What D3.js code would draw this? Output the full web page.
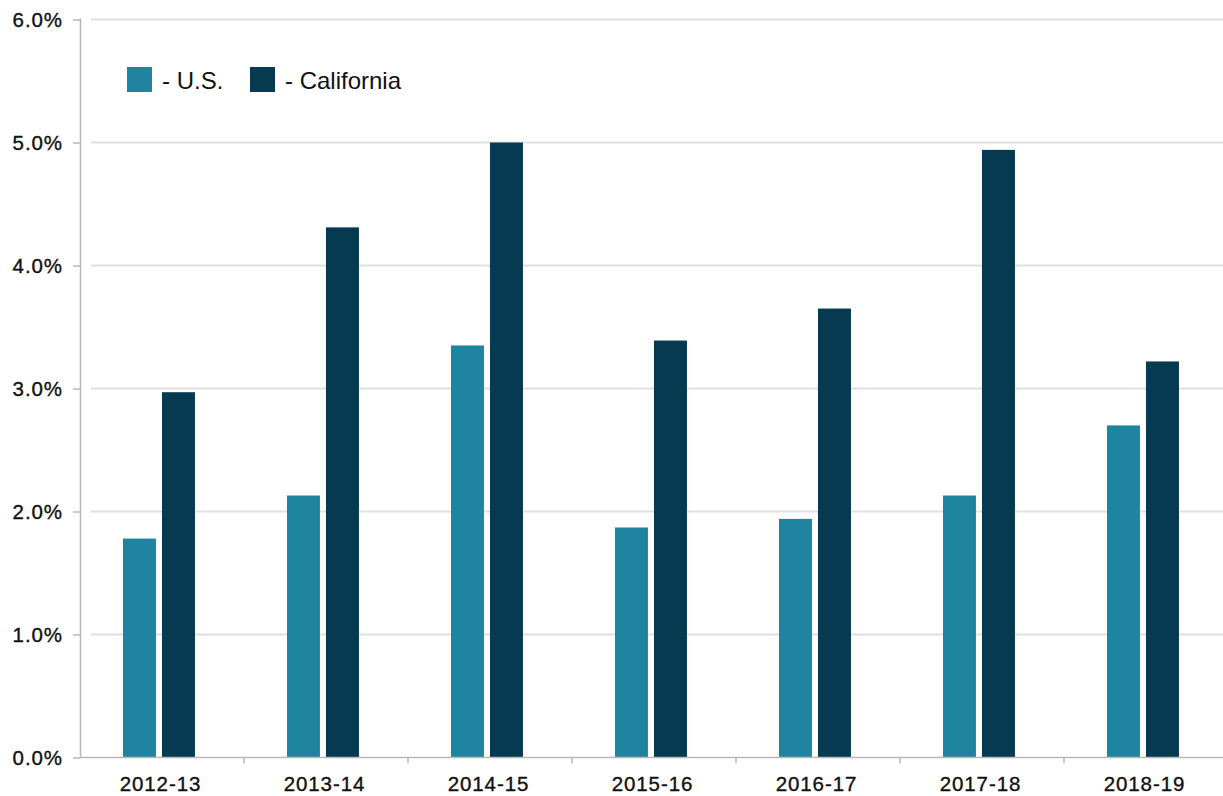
<!DOCTYPE html>
<html>
<head>
<meta charset="utf-8">
<script src="https://cdn.jsdelivr.net/npm/d3@7"></script>
<style>
  html, body { margin: 0; padding: 0; background: #fff; }
  svg { display: block; font-family: "Liberation Sans", Arial, Helvetica, sans-serif; }
</style>
</head>
<body>
<svg id="chart" width="1223" height="796"></svg>
<script>
// Fiscal years on the x axis
const years = ["2012-13", "2013-14", "2014-15", "2015-16", "2016-17", "2017-18", "2018-19"];
// Series values, in percent
const usValues = [1.78, 2.13, 3.35, 1.87, 1.94, 2.13, 2.70];
const caValues = [2.97, 4.31, 5.00, 3.39, 3.65, 4.94, 3.22];
const seriesNames = ["- U.S.", "- California"];
const seriesColors = ["#1f84a0", "#063a50"];
const yTicks = [0, 1, 2, 3, 4, 5, 6];

const svg = d3.select("#chart");
const plotLeft = 80, plotRight = 1228, plotTop = 19.5, plotBottom = 757.5;

const x = d3.scaleBand().domain(years).range([plotLeft, plotRight]).padding(0);
const inner = d3.scaleBand()
  .domain([0, 1])
  .range([0, x.bandwidth()])
  .paddingInner(0.154)
  .paddingOuter(1.18)
  .align(0.467);
const y = d3.scaleLinear().domain([0, 6]).range([plotBottom, plotTop]);

// Horizontal gridlines
svg.append("g")
  .selectAll("line")
  .data(yTicks.filter(d => d > 0))
  .join("line")
  .attr("x1", 91).attr("x2", 1223)
  .attr("y1", d => y(d)).attr("y2", d => y(d))
  .attr("stroke", "#e0e0e0")
  .attr("stroke-width", 2);

// Bars
const rows = years.map((yr, i) => ({ yr, vals: [usValues[i], caValues[i]] }));
const groups = svg.append("g").selectAll("g")
  .data(rows)
  .join("g")
  .attr("transform", d => `translate(${x(d.yr)},0)`);
groups.selectAll("rect")
  .data(d => d.vals.map((v, k) => ({ v, k })))
  .join("rect")
  .attr("x", d => inner(d.k))
  .attr("width", inner.bandwidth())
  .attr("y", d => y(d.v))
  .attr("height", d => y(0) - y(d.v))
  .attr("fill", d => seriesColors[d.k]);

// Y axis
const yAxis = svg.append("g")
  .attr("transform", `translate(${plotLeft},0)`)
  .call(d3.axisLeft(y).tickValues(yTicks).tickFormat(d => d3.format(".1f")(d) + "%").tickSize(7).tickPadding(11));
yAxis.select(".domain").attr("stroke", "#b8b8b8").attr("stroke-width", 1.5)
  .attr("d", `M0.5,${plotTop - 1}V${plotBottom}`);
yAxis.selectAll(".tick line").attr("stroke", "#b8b8b8").attr("stroke-width", 1.5);
yAxis.selectAll(".tick text")
  .attr("font-size", 20.5)
  .attr("letter-spacing", "0.9px")
  .attr("dx", "0.9px")
  .attr("fill", "#111")
  .attr("stroke", "#111")
  .attr("stroke-width", 0.35);

// X axis: ticks between categories
const xAxis = svg.append("g")
  .attr("transform", `translate(0,${plotBottom})`);
xAxis.append("line")
  .attr("x1", plotLeft).attr("x2", 1223)
  .attr("stroke", "#b8b8b8").attr("stroke-width", 1.5);
xAxis.selectAll(".sep")
  .data(years.slice(1))
  .join("line")
  .attr("class", "sep")
  .attr("x1", d => x(d)).attr("x2", d => x(d))
  .attr("y1", 0).attr("y2", 6)
  .attr("stroke", "#b8b8b8").attr("stroke-width", 1.5);
xAxis.selectAll("text")
  .data(years)
  .join("text")
  .attr("x", d => x(d) + x.bandwidth() / 2 - 1.5)
  .attr("y", 33)
  .attr("text-anchor", "middle")
  .attr("font-size", 20.5)
  .attr("letter-spacing", "0.9px")
  .attr("fill", "#111")
  .attr("stroke", "#111")
  .attr("stroke-width", 0.35)
  .text(d => d);

// Legend
const legendX = [127, 250];
const legend = svg.append("g").selectAll("g")
  .data(seriesNames)
  .join("g")
  .attr("transform", (d, i) => `translate(${legendX[i]},67)`);
legend.append("rect")
  .attr("width", 25).attr("height", 25)
  .attr("fill", (d, i) => seriesColors[i]);
legend.append("text")
  .attr("x", 35).attr("y", 22)
  .attr("font-size", 24)
  .attr("fill", "#111")
  .text(d => d);
</script>
</body>
</html>
